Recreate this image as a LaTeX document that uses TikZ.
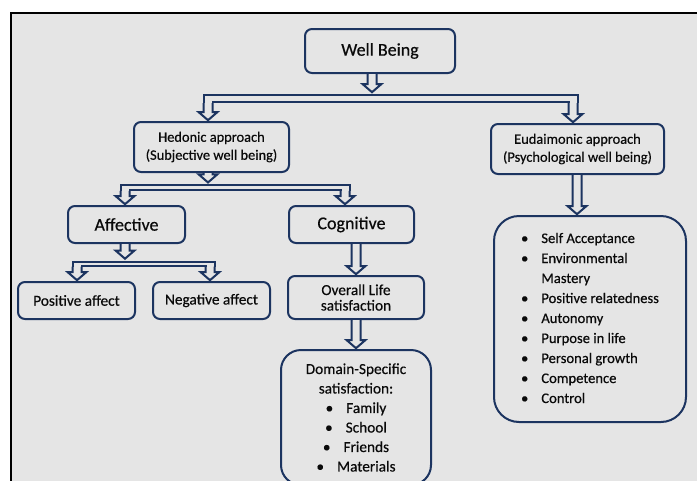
\documentclass[tikz,border=0pt]{standalone}
\usepackage{fontspec}
\setmainfont{Carlito}[FakeBold=0.45]
\usetikzlibrary{calc}
\definecolor{navy}{RGB}{28,52,96}
\definecolor{bg}{RGB}{229,229,229}
\definecolor{ink}{RGB}{10,10,10}
\tikzset{
  box/.style={draw=navy, line width=2pt, rounded corners=7pt, fill=bg, align=center,
    text=ink, inner sep=0pt, anchor=center},
  bigbox/.style={box, rounded corners=22pt},
  barbox/.style={draw=navy, line width=2pt, fill=bg, rectangle, inner sep=0pt, anchor=center},
  blk/.style={draw=navy, line width=2pt, line join=miter},
  fbig/.style={font=\fontsize{18}{20}\selectfont},
  fapp/.style={font=\fontsize{14.4}{18}\selectfont},
  fmid/.style={font=\fontsize{15.3}{19.5}\selectfont},
}
% hollow block arrow: #1 overlap into source, #2 start point, #3 tip point (x from tip)
\newcommand\dnarr[3][0pt]{%
  \fill[bg] let \p1=#2, \p2=#3 in (\x2-3.5pt,\y1+#1) rectangle (\x2+3.5pt,\y2+9pt);
  \draw[blk] let \p1=#2, \p2=#3 in (\x2-4.5pt,\y1) -- (\x2-4.5pt,\y2+9pt) -- (\x2-9.5pt,\y2+9pt)
     -- (\x2,\y2+0.8pt) -- (\x2+9.5pt,\y2+9pt) -- (\x2+4.5pt,\y2+9pt) -- (\x2+4.5pt,\y1);
}
\begin{document}
\begin{tikzpicture}[x=1pt,y=-1pt]
\useasboundingbox (0,0) rectangle (697,480);
\clip (0,0) rectangle (697,480);
\fill[white] (0,0) rectangle (697,480);
\fill[bg] (11,13) rectangle (705,490);
\draw[black, line width=2.6pt] (11,490) -- (11,13) -- (705,13);

% nodes
\node[box, fbig, minimum width=150pt, minimum height=44pt] (wb) at (380,51) {Well Being};
\node[box, fapp, minimum width=155pt, minimum height=50pt] (hed) at (211.5,147) {Hedonic approach\\(Subjective well being)};
\node[box, fapp, minimum width=173pt, minimum height=50pt] (eud) at (577.5,149) {Eudaimonic approach\\(Psychological well being)};
\node[box, fbig, minimum width=117pt, minimum height=37pt] (aff) at (126.5,224.5) {Affective};
\node[box, fbig, minimum width=125pt, minimum height=37pt] (cog) at (351.5,224.5) {Cognitive};
\node[box, fmid, minimum width=117pt, minimum height=37pt] (pos) at (76.5,300.5) {Positive affect};
\node[box, fmid, minimum width=117pt, minimum height=37pt] (neg) at (211.5,300.5) {Negative affect};
\node[box, font=\fontsize{15.3}{15.5}\selectfont, minimum width=136pt, minimum height=43pt] (ovr) at (356,297.5) {Overall Life\\satisfaction};
\node[bigbox, fmid, minimum width=150pt, minimum height=135pt, rounded corners=20pt] (dom) at (356,417.5)
  {Domain-Specific\\satisfaction:\\\textbullet\hspace{13pt}Family\\\textbullet\hspace{13pt}School\\\textbullet\hspace{13pt}Friends\\\textbullet\hspace{13pt}Materials};
\node[bigbox, font=\fontsize{14.6}{20}\selectfont, minimum width=192pt, minimum height=206pt, rounded corners=25pt] (lst) at (590,319)
  {\begin{tabular}{@{}l@{\hspace{13pt}}l@{}}
   \textbullet & Self Acceptance\\
   \textbullet & Environmental\\
               & Mastery\\
   \textbullet & Positive relatedness\\
   \textbullet & Autonomy\\
   \textbullet & Purpose in life\\
   \textbullet & Personal growth\\
   \textbullet & Competence\\
   \textbullet & Control
   \end{tabular}};

% bars
\node[barbox, minimum width=374.5pt, minimum height=7pt] (bar1) at (390.75,98.5) {};
\node[barbox, minimum width=229pt, minimum height=4.5pt] (bar2) at (235,187.5) {};
\node[barbox, minimum width=142pt, minimum height=4pt] (bar3) at (143.5,263.5) {};

% arrows
\dnarr{($(wb.south)+(-8,0)$)}{($(bar1.north)+(-18.75,-1)$)}
\dnarr[3pt]{($(bar1.south)+(-182.75,0)$)}{($(hed.north)+(-3.5,0)$)}
\dnarr[3pt]{($(bar1.south)+(182.25,0)$)}{($(eud.north)+(-4.5,0)$)}
\dnarr{($(hed.south)+(-3.5,0)$)}{($(bar2.north)+(-27,-1)$)}
\dnarr[2.5pt]{($(bar2.south)+(-110,0)$)}{($(aff.north)+(-1.5,0)$)}
\dnarr[2.5pt]{($(bar2.south)+(110,0)$)}{($(cog.north)+(-6.5,0)$)}
\dnarr{($(aff.south)+(-1.5,0)$)}{($(bar3.north)+(-18.5,-1)$)}
\dnarr[2.5pt]{($(bar3.south)+(-66.5,0)$)}{($(pos.north)+(0.5,0)$)}
\dnarr[2.5pt]{($(bar3.south)+(66.5,0)$)}{($(neg.north)+(-1.5,0)$)}
\dnarr{($(cog.south)+(4.5,0)$)}{(ovr.north)}
\dnarr{(ovr.south)}{(dom.north)}
\dnarr{($(eud.south)+(-0.5,0)$)}{($(lst.north)+(-13,0)$)}
\end{tikzpicture}
\end{document}
